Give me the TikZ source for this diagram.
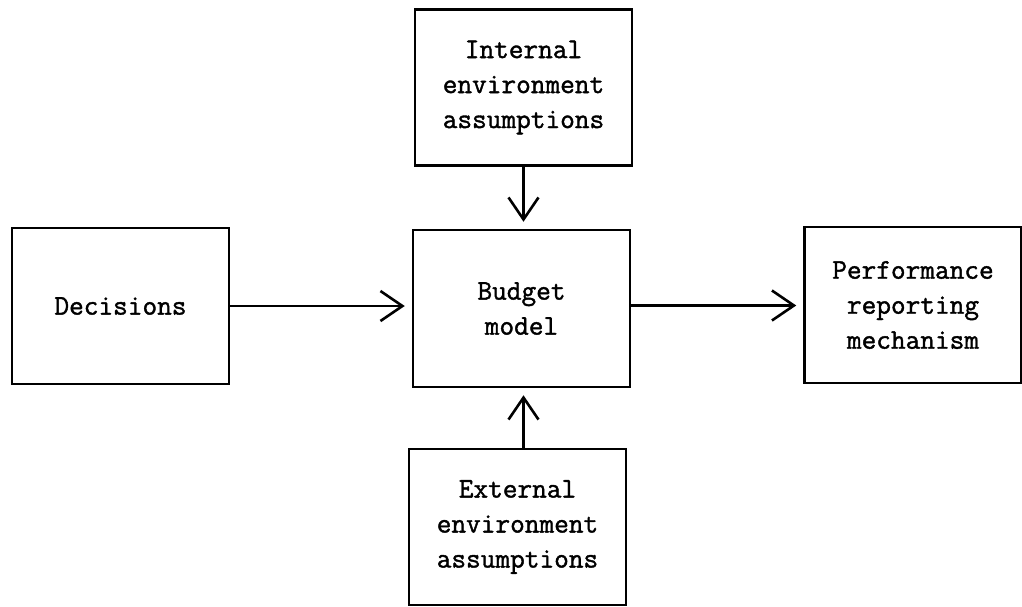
\documentclass[tikz,border=0pt]{standalone}
\usepackage{fontspec}
\usetikzlibrary{arrows.meta}
% typewriter face with a slightly heavier stroke
\newfontfamily\typewface{Latin Modern Mono}[FakeBold=1.4]
\begin{document}
\begin{tikzpicture}[x=1pt,y=-1pt,
  blockbox/.style={draw=black, line width=2.5pt, rectangle,
    minimum width=217pt, minimum height=156pt, inner sep=0pt,
    align=center, font=\typewface\fontsize{28.5}{35}\selectfont},
  flow/.style={draw=black, line width=2.5pt,
    -{Straight Barb[length=22pt,width=30pt,line width=2.6pt]},
    shorten >=7pt}]
  \useasboundingbox (0,0) rectangle (1022,606);

  \node[blockbox] (intl) at (523.5,87.5) {Internal\\environment\\assumptions};
  \node[blockbox, minimum height=157pt] (budget) at (521.5,308.5) {Budget\\model};
  \node[blockbox] (dec) at (120.5,306) {Decisions};
  \node[blockbox] (perf) at (913,305) {Performance\\reporting\\mechanism};
  \node[blockbox] (extl) at (517.5,527) {External\\environment\\assumptions};

  \draw[flow] (dec.east) -- (dec.east -| budget.west);
  \draw[flow] ([yshift=3pt]budget.east) -- ([yshift=3pt]budget.east -| perf.west);
  \draw[flow] (intl.south) -- (intl.south |- budget.north);
  \draw[flow] ([xshift=6pt]extl.north) -- ([xshift=6pt]extl.north |- budget.south);
\end{tikzpicture}
\end{document}
